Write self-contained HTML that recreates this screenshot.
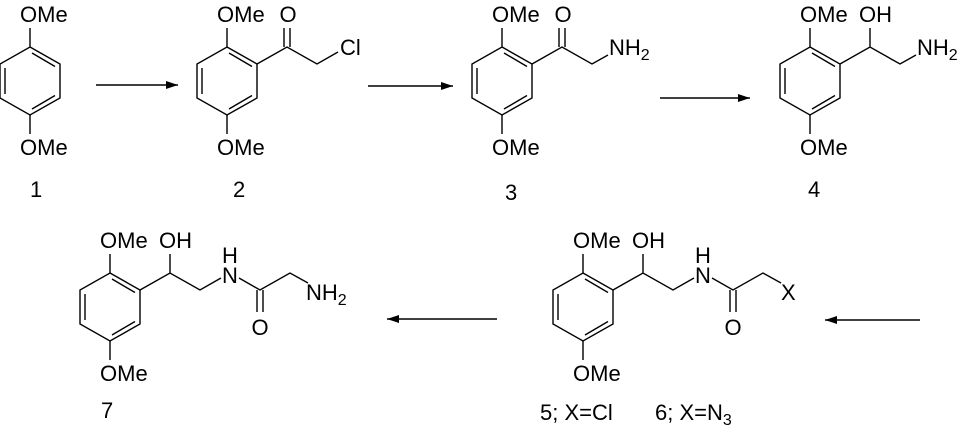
<!DOCTYPE html>
<html><head><meta charset="utf-8"><style>
html,body{margin:0;padding:0;background:#fff}
svg{display:block}
text{font-family:"Liberation Sans",Arial,sans-serif;font-size:22px;fill:#000}
</style></head><body>
<svg width="960" height="438" viewBox="0 0 960 438" xmlns="http://www.w3.org/2000/svg">
<defs>
<g id="ring" fill="none" stroke="#000" stroke-width="1.4">
<path d="M0,0 L30,17 L30,51 L0,68 L-30,51 L-30,17 Z"/>
<path d="M-25,21 L-25,47 M2,6 L25,19.5 M25,48.5 L2,62 M0,0 L0,-19 M0,68 L0,87"/>
</g>
<g id="amide" fill="none" stroke="#000" stroke-width="1.4">
<path d="M30,17 L60,0 L90,17 L111,5 M129,5 L150,17 L180,0 L198,10 M60,0 L60,-19 M147,17 L147,39 M153,17 L153,39"/>
</g>
<marker id="ah" markerWidth="12" markerHeight="8" refX="12" refY="4" orient="auto" markerUnits="userSpaceOnUse">
<path d="M0,0 L12,4 L0,8 Z" fill="#000"/>
</marker>
</defs>
<g stroke="#000" stroke-width="1.4" fill="none">
<line x1="96" y1="85" x2="178" y2="85" marker-end="url(#ah)"/>
<line x1="368" y1="86" x2="453" y2="86" marker-end="url(#ah)"/>
<line x1="660" y1="98" x2="750" y2="98" marker-end="url(#ah)"/>
<line x1="920" y1="320" x2="825" y2="320" marker-end="url(#ah)"/>
<line x1="497" y1="319" x2="387" y2="319" marker-end="url(#ah)"/>
</g>

<!-- 1 -->
<g transform="translate(30,47)"><use href="#ring"/>
<text x="-10" y="-25">OMe</text><text x="-10" y="108">OMe</text></g>
<text x="30" y="197">1</text>

<!-- 2 -->
<g transform="translate(227,47)"><use href="#ring"/>
<path d="M30,17 L60,0 L90,17 L111,5 M57,0 L57,-19 M63,0 L63,-19" stroke="#000" stroke-width="1.4" fill="none"/>
<text x="-10" y="-25">OMe</text><text x="-10" y="108">OMe</text>
<text x="61" y="-25" text-anchor="middle">O</text>
<text x="113" y="8">Cl</text></g>
<text x="233" y="197">2</text>

<!-- 3 -->
<g transform="translate(502,47)"><use href="#ring"/>
<path d="M30,17 L60,0 L90,17 L106,8 M57,0 L57,-19 M63,0 L63,-19" stroke="#000" stroke-width="1.4" fill="none"/>
<text x="-10" y="-25">OMe</text><text x="-10" y="108">OMe</text>
<text x="61" y="-25" text-anchor="middle">O</text>
<text x="107" y="8">NH<tspan font-size="16" dy="5">2</tspan></text></g>
<text x="505" y="200">3</text>

<!-- 4 -->
<g transform="translate(810,47)"><use href="#ring"/>
<path d="M30,17 L60,0 L90,17 L106,8 M60,0 L60,-19" stroke="#000" stroke-width="1.4" fill="none"/>
<text x="-10" y="-25">OMe</text><text x="-10" y="108">OMe</text>
<text x="49" y="-25">OH</text>
<text x="107" y="8">NH<tspan font-size="16" dy="5">2</tspan></text></g>
<text x="808" y="197">4</text>

<!-- 7 -->
<g transform="translate(110,273)"><use href="#ring"/><use href="#amide"/>
<text x="-10" y="-25">OMe</text><text x="-10" y="108">OMe</text>
<text x="49" y="-25">OH</text>
<text x="120" y="-10" text-anchor="middle">H</text>
<text x="120" y="10" text-anchor="middle">N</text>
<text x="150" y="62" text-anchor="middle">O</text>
<text x="196" y="27">NH<tspan font-size="16" dy="5">2</tspan></text></g>
<text x="101" y="418">7</text>

<!-- 5/6 -->
<g transform="translate(583,273)"><use href="#ring"/><use href="#amide"/>
<text x="-10" y="-25">OMe</text><text x="-10" y="108">OMe</text>
<text x="49" y="-25">OH</text>
<text x="120" y="-10" text-anchor="middle">H</text>
<text x="120" y="10" text-anchor="middle">N</text>
<text x="150" y="62" text-anchor="middle">O</text>
<text x="198" y="27">X</text></g>
<text x="540" y="420">5; X=Cl</text>
<text x="655" y="420">6; X=N<tspan font-size="16" dy="5">3</tspan></text>
</svg>
</body></html>
